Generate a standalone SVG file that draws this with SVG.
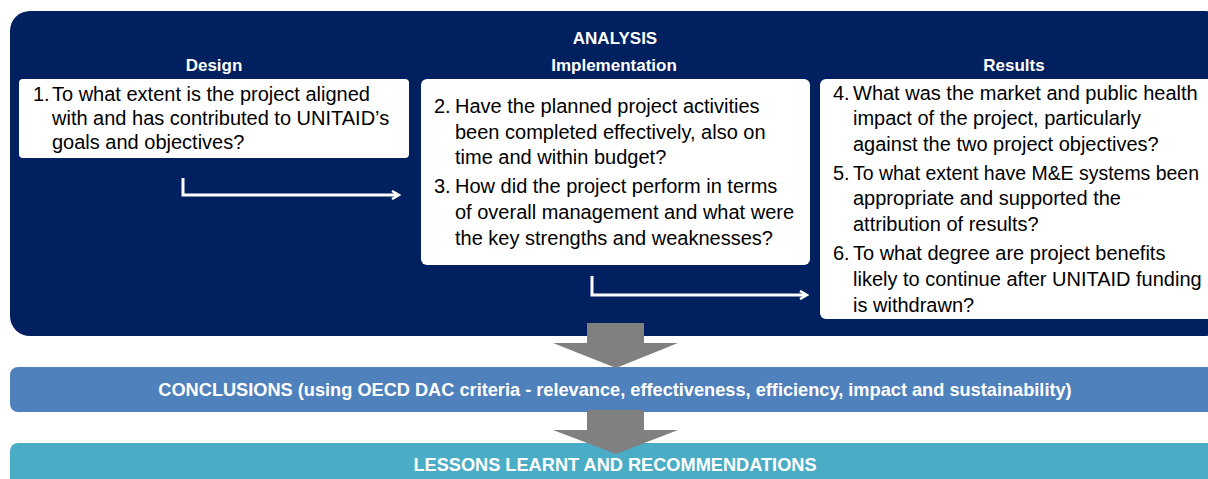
<svg xmlns="http://www.w3.org/2000/svg" width="1208" height="479" viewBox="0 0 1208 479">
<style>
.hdr{font-family:"Liberation Sans",Arial,sans-serif;font-weight:bold;font-size:17px;fill:#fff;text-anchor:middle}
.body{font-family:"Liberation Sans",Arial,sans-serif;font-size:20px;fill:#000}
.bar{font-family:"Liberation Sans",Arial,sans-serif;font-weight:bold;font-size:18.2px;fill:#fff;text-anchor:middle}
.card{fill:#fff}
.flow{fill:none;stroke:#fff;stroke-width:3}
.big{fill:#808080}
</style>
<defs>
<marker id="ah" markerWidth="10" markerHeight="10" refX="7" refY="5" orient="auto" markerUnits="userSpaceOnUse">
<path d="M1,1 L8,5 L1,9" fill="none" stroke="#fff" stroke-width="2.5"/>
</marker>
</defs>
<g id="analysis">
<rect x="10" y="11" width="1215" height="325" rx="20" fill="#002060"/>
<text class="hdr" x="615" y="44">ANALYSIS</text>
</g>
<g id="design">
<text class="hdr" x="214" y="71">Design</text>
<rect class="card" x="19" y="79" width="390" height="79" rx="4"/>
<text class="body"><tspan x="33" y="101">1.</tspan><tspan x="52" y="101">To what extent is the project aligned</tspan><tspan x="52" y="125">with and has contributed to UNITAID’s</tspan><tspan x="52" y="149">goals and objectives?</tspan></text>
</g>
<g id="implementation">
<text class="hdr" x="614" y="71">Implementation</text>
<rect class="card" x="421" y="79" width="389" height="186" rx="6"/>
<text class="body"><tspan x="434" y="113">2.</tspan><tspan x="455" y="113">Have the planned project activities</tspan><tspan x="455" y="139">been completed effectively, also on</tspan><tspan x="455" y="164">time and within budget?</tspan><tspan x="434" y="193">3.</tspan><tspan x="455" y="193">How did the project perform in terms</tspan><tspan x="455" y="219">of overall management and what were</tspan><tspan x="455" y="245">the key strengths and weaknesses?</tspan></text>
</g>
<g id="results">
<text class="hdr" x="1014" y="71">Results</text>
<rect class="card" x="820" y="79" width="400" height="240" rx="6"/>
<text class="body"><tspan x="833" y="100">4.</tspan><tspan x="853" y="100">What was the market and public health</tspan><tspan x="853" y="125">impact of the project, particularly</tspan><tspan x="853" y="151">against the two project objectives?</tspan><tspan x="833" y="180">5.</tspan><tspan x="853" y="180" textLength="346" lengthAdjust="spacingAndGlyphs">To what extent have M&amp;E systems been</tspan><tspan x="853" y="205">appropriate and supported the</tspan><tspan x="853" y="231">attribution of results?</tspan><tspan x="833" y="260">6.</tspan><tspan x="853" y="260">To what degree are project benefits</tspan><tspan x="853" y="286">likely to continue after UNITAID funding</tspan><tspan x="853" y="312">is withdrawn?</tspan></text>
</g>
<g id="conclusions">
<rect x="10" y="367" width="1215" height="45" rx="8" fill="#4F81BD"/>
<text class="bar" x="615" y="396">CONCLUSIONS (using OECD DAC criteria - relevance, effectiveness, efficiency, impact and sustainability)</text>
</g>
<g id="lessons">
<rect x="10" y="443" width="1215" height="50" rx="8" fill="#4BACC6"/>
<text class="bar" x="615" y="471">LESSONS LEARNT AND RECOMMENDATIONS</text>
</g>
<g id="connectors">
<path class="flow" d="M183,178 V195 H398" marker-end="url(#ah)"/>
<path class="flow" d="M592,276 V295 H806" marker-end="url(#ah)"/>
<polygon class="big" points="587,323 644,323 644,343 678,343 616,368 553,343 587,343"/>
<polygon class="big" points="587,410 644,410 644,430 678,430 616,454 553,430 587,430"/>
</g>
</svg>
